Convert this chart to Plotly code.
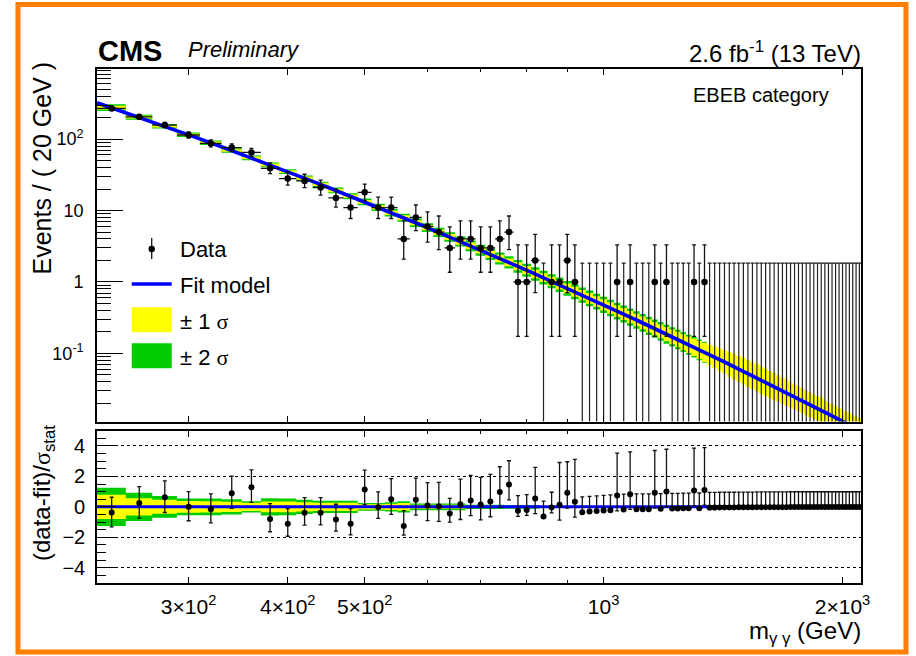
import math
import plotly.graph_objects as go

# ---------------- data ----------------
MASS_EDGES = list(range(230, 2111, 20))            # 95 bin edges, 20 GeV bins
BIN_CENTERS = list(range(240, 2101, 20))           # 94 bins

COUNTS = [269, 205, 157, 114, 87, 76, 65, 39, 28, 26,
          21, 15, 11, 18, 11, 11, 4, 8, 6, 5,
          3, 4, 4, 3, 3, 4, 5, 1, 1, 2,
          0, 1, 1, 2, 1, 0, 0, 0, 0, 0,
          1, 0, 1, 0, 0, 0, 1, 0, 1, 0,
          0, 0, 0, 1, 0, 1] + [0] * 38

# fit model read at the bin edges (events / 20 GeV)
FIT_AT_EDGES = [322.9, 235.2, 174.5, 131.7, 100.8, 78.2, 61.35, 48.66, 38.96, 31.48,
                25.63, 21.03, 17.37, 14.44, 12.08, 10.15, 8.585, 7.290, 6.220, 5.329,
                4.585, 3.959, 3.430, 2.983, 2.603, 2.278, 2.000, 1.760, 1.553, 1.374,
                1.218, 1.083, 0.9652, 0.8619, 0.7710, 0.6913, 0.6209, 0.5589, 0.5037, 0.4549,
                0.4115, 0.3728, 0.3383, 0.3074, 0.2797, 0.2549, 0.2326, 0.2126, 0.1944, 0.1780,
                0.1633, 0.1500, 0.1378, 0.1268, 0.1168, 0.1077, 0.09944, 0.09186, 0.08497, 0.07864,
                0.07287, 0.06757, 0.06271, 0.05827, 0.05416, 0.05041, 0.04692, 0.04371, 0.04076, 0.03805,
                0.03553, 0.03321, 0.03106, 0.02907, 0.02722, 0.02551, 0.02391, 0.02244, 0.02107, 0.01978,
                0.01860, 0.01749, 0.01646, 0.01549, 0.01459, 0.01375, 0.01297, 0.01224, 0.01155, 0.01090,
                0.01030, 0.00974, 0.00921, 0.00871, 0.00824]

# +-1 sigma (yellow) and +-2 sigma (green) band half-widths, in decades, per bin
BAND1_DEX = [0.026, 0.020, 0.018, 0.018, 0.018, 0.018, 0.018, 0.020, 0.020, 0.022,
             0.022, 0.024, 0.026, 0.028, 0.030, 0.032, 0.034, 0.036, 0.038, 0.040,
             0.042, 0.044, 0.046, 0.048, 0.050, 0.052, 0.054, 0.056, 0.058, 0.060,
             0.062, 0.064, 0.066, 0.068, 0.070, 0.072, 0.074, 0.076, 0.078, 0.080,
             0.082, 0.084, 0.086, 0.088, 0.090, 0.092, 0.094, 0.097, 0.100, 0.104,
             0.108, 0.112, 0.117, 0.122, 0.128, 0.135, 0.142, 0.150, 0.158, 0.165,
             0.172, 0.178, 0.183, 0.186, 0.190, 0.190, 0.190, 0.190, 0.190, 0.190,
             0.190, 0.188, 0.186, 0.184, 0.182, 0.180, 0.178, 0.176, 0.174, 0.172,
             0.170, 0.168, 0.166, 0.165, 0.165, 0.165, 0.165, 0.165, 0.165, 0.165,
             0.165, 0.165, 0.165, 0.165]
BAND2_DEX = [0.047, 0.035, 0.032, 0.032, 0.032, 0.032, 0.032, 0.034, 0.034, 0.037,
             0.038, 0.040, 0.043, 0.046, 0.050, 0.053, 0.056, 0.059, 0.062, 0.065,
             0.068, 0.071, 0.074, 0.077, 0.080, 0.083, 0.086, 0.089, 0.092, 0.094,
             0.097, 0.099, 0.101, 0.103, 0.105, 0.107, 0.109, 0.111, 0.113, 0.115,
             0.117, 0.119, 0.121, 0.123, 0.125, 0.127, 0.129, 0.131, 0.133, 0.135,
             0.137, 0.139, 0.141, 0.143, 0.145, 0.147]

# residuals (data-fit)/sigma_stat per bin
RESIDUALS = [-0.37, 0.26, 0.63, 0.00, -0.15, 0.90, 1.29, -0.79, -1.11, -0.39,
             -0.39, -0.83, -1.11, 1.14, -0.02, 0.50, -1.25, 0.46, 0.09, 0.04,
             -0.44, 0.17, 0.42, 0.15, 0.35, 0.98, 1.46, -0.26, -0.20, 0.55,
             -0.63, -0.04, 0.13, 0.92, 0.33, -0.35, -0.31, -0.28, -0.24, -0.22,
             0.74, -0.17, 0.83, -0.15, -0.15, -0.15, 0.92, -0.13, 1.00, -0.11,
             -0.11, -0.10, -0.10, 1.07, -0.09, 1.11,
             -0.05, -0.05, -0.04, -0.04, -0.04, -0.04, -0.03, -0.03, -0.03, -0.03,
             -0.02, -0.02, -0.02, -0.02, -0.02, -0.02, -0.02, -0.02, -0.01, -0.01,
             -0.01, -0.01, -0.01, -0.01, -0.01, -0.01, -0.01, -0.01, -0.01, -0.01,
             -0.01, -0.01, -0.01, -0.01, -0.01, -0.01, -0.01, -0.01]

# residual-panel band half-widths (units of sigma_stat) per bin
RES_BAND1 = [0.80, 0.57, 0.46, 0.38, 0.37, 0.33, 0.27, 0.35, 0.35, 0.30,
             0.27, 0.27, 0.27, 0.17, 0.17, 0.20, 0.25, 0.13, 0.13, 0.13,
             0.13, 0.13, 0.08, 0.08, 0.08, 0.08, 0.06, 0.06, 0.06, 0.06] + [0.03] * 26
RES_BAND2 = [1.25, 0.93, 0.71, 0.55, 0.55, 0.50, 0.37, 0.57, 0.55, 0.47,
             0.40, 0.40, 0.40, 0.25, 0.25, 0.30, 0.37, 0.22, 0.22, 0.22,
             0.22, 0.22, 0.14, 0.14, 0.14, 0.14, 0.12, 0.12, 0.12, 0.12] + [0.06] * 26

# 68% Poisson intervals (down, up) for the observed counts
POISSON_ERR = {0: (0.0, 1.841), 1: (0.827, 2.300), 2: (1.292, 2.638), 3: (1.633, 2.918),
               4: (1.914, 3.162), 5: (2.159, 3.382), 6: (2.379, 3.583), 8: (2.768, 3.945),
               11: (3.265, 4.434), 15: (3.832, 4.976), 18: (4.209, 5.348), 21: (4.550, 5.689),
               26: (5.067, 6.211), 28: (5.259, 6.406), 39: (6.218, 7.362), 65: (8.040, 9.112),
               76: (8.703, 9.762), 87: (9.312, 10.364), 114: (10.662, 11.701),
               157: (12.530, 13.551), 205: (14.320, 15.342), 269: (16.403, 17.420)}

X_TICKS = [300, 400, 500, 1000, 2000]
X_TICKTEXT = ["3×10<sup>2</sup>", "4×10<sup>2</sup>", "5×10<sup>2</sup>", "10<sup>3</sup>", "2×10<sup>3</sup>"]
X_MINOR = [600, 700, 800, 900]
Y_TICKS = [0.1, 1, 10, 100]
Y_TICKTEXT = ["10<sup>-1</sup>", "1", "10", "10<sup>2</sup>"]
Y_MINOR = [k * 10 ** d for d in (-2, -1, 0, 1, 2) for k in range(2, 10)]
R_TICKS = [-4, -2, 0, 2, 4]

# ---------------- geometry ----------------
FIG_W, FIG_H = 916, 656
ML, MR, MT, MB = 97, 55, 69, 73
PW, PH = FIG_W - ML - MR, FIG_H - MT - MB


def px(x):
    return (x - ML) / PW


def py(y):
    return (FIG_H - MB - y) / PH


X_RANGE = [math.log10(MASS_EDGES[0]), math.log10(MASS_EDGES[-1])]
Y_LOG_RANGE = [-1.953, 2.981]

FONT = "Liberation Sans, Arial, Helvetica, sans-serif"
BLUE = "#0000ff"
YELLOW = "#ffff00"
GREEN = "#00cc00"

fig = go.Figure()


def step(vals):
    return list(vals) + [vals[-1]]


def band(xaxis, yaxis, edges, lo, hi, color):
    fig.add_trace(go.Scatter(x=edges, y=step(lo), mode="lines", line=dict(width=0, shape="hv"),
                             xaxis=xaxis, yaxis=yaxis, hoverinfo="skip"))
    fig.add_trace(go.Scatter(x=edges, y=step(hi), mode="lines", line=dict(width=0, shape="hv"),
                             fill="tonexty", fillcolor=color, xaxis=xaxis, yaxis=yaxis, hoverinfo="skip"))


# ---- top panel ----
centers_fit = [math.sqrt(FIT_AT_EDGES[i] * FIT_AT_EDGES[i + 1]) for i in range(len(BIN_CENTERS))]
n2 = len(BAND2_DEX)
band("x", "y", MASS_EDGES[:n2 + 1],
     [centers_fit[i] * 10 ** (-BAND2_DEX[i]) for i in range(n2)],
     [centers_fit[i] * 10 ** (BAND2_DEX[i]) for i in range(n2)], GREEN)
band("x", "y", MASS_EDGES,
     [centers_fit[i] * 10 ** (-BAND1_DEX[i]) for i in range(len(BAND1_DEX))],
     [centers_fit[i] * 10 ** (BAND1_DEX[i]) for i in range(len(BAND1_DEX))], YELLOW)

# empty bins: only the upper Poisson error bar is visible
y_floor = 10 ** (Y_LOG_RANGE[0] - 1)
zx = [c for c, n in zip(BIN_CENTERS, COUNTS) if n == 0]
fig.add_trace(go.Scatter(
    x=zx, y=[y_floor] * len(zx), mode="markers", marker=dict(size=1, color="rgba(0,0,0,0)"),
    error_y=dict(type="data", symmetric=False, array=[POISSON_ERR[0][1] - y_floor] * len(zx),
                 arrayminus=[0] * len(zx), color="#222222", thickness=1.2, width=2),
    xaxis="x", yaxis="y", hoverinfo="skip"))

fig.add_trace(go.Scatter(x=MASS_EDGES, y=FIT_AT_EDGES, mode="lines",
                         line=dict(color=BLUE, width=3.6), xaxis="x", yaxis="y"))

dx = [c for c, n in zip(BIN_CENTERS, COUNTS) if n > 0]
dy = [n for n in COUNTS if n > 0]
fig.add_trace(go.Scatter(
    x=dx, y=dy, mode="markers", marker=dict(size=6.5, color="black"),
    error_y=dict(type="data", symmetric=False, array=[POISSON_ERR[n][1] for n in dy],
                 arrayminus=[POISSON_ERR[n][0] for n in dy], color="#111111", thickness=1.3, width=2),
    error_x=dict(type="constant", value=(MASS_EDGES[1] - MASS_EDGES[0]) / 2, color="#111111",
                 thickness=1.3, width=0),
    xaxis="x", yaxis="y"))

# ---- ratio panel ----
nr = len(RES_BAND1)
band("x2", "y2", MASS_EDGES[:nr + 1], [-v for v in RES_BAND2], RES_BAND2, GREEN)
band("x2", "y2", MASS_EDGES[:nr + 1], [-v for v in RES_BAND1], RES_BAND1, YELLOW)
fig.add_trace(go.Scatter(x=[MASS_EDGES[0], MASS_EDGES[-1]], y=[0, 0], mode="lines",
                         line=dict(color=BLUE, width=3), xaxis="x2", yaxis="y2"))

r_up, r_dn = [], []
for n, r in zip(COUNTS, RESIDUALS):
    lo, hi = POISSON_ERR[n]
    sig = lo if r > 0 else hi
    r_up.append(hi / sig)
    r_dn.append(lo / sig)
fig.add_trace(go.Scatter(
    x=BIN_CENTERS, y=RESIDUALS, mode="markers", marker=dict(size=6, color="black"),
    error_y=dict(type="data", symmetric=False, array=r_up, arrayminus=r_dn,
                 color="#111111", thickness=1.3, width=2),
    xaxis="x2", yaxis="y2"))

# ---------------- layout ----------------
top_dom = [py(421.5), 1.0]
bot_dom = [0.0, py(430.7)]

common_x = dict(type="log", range=X_RANGE, showgrid=False, zeroline=False, showline=True,
                linecolor="black", linewidth=1.6, mirror="ticks", ticks="inside", tickcolor="black",
                tickwidth=1, ticklen=6, tickvals=X_TICKS, ticktext=X_TICKTEXT,
                minor=dict(tickvals=X_MINOR, ticks="inside", ticklen=3, tickcolor="black", showgrid=False))

fig.update_layout(
    width=FIG_W, height=FIG_H, margin=dict(l=ML, r=MR, t=MT, b=MB),
    paper_bgcolor="white", plot_bgcolor="white", showlegend=False,
    font=dict(family=FONT, color="black"),
    xaxis=dict(common_x, anchor="y", domain=[0, 1], showticklabels=False, matches="x2"),
    xaxis2=dict(common_x, anchor="y2", domain=[0, 1], showticklabels=True,
                tickfont=dict(size=21), ticklabelstandoff=4),
    yaxis=dict(type="log", range=Y_LOG_RANGE, domain=top_dom, anchor="x", showgrid=False,
               zeroline=False, showline=True, linecolor="black", linewidth=1.6, mirror=True,
               ticks="inside", tickcolor="black", ticklen=26, tickwidth=1,
               tickvals=Y_TICKS, ticktext=Y_TICKTEXT, tickfont=dict(size=18), ticklabelstandoff=8,
               minor=dict(tickvals=Y_MINOR, ticks="inside", ticklen=14, tickcolor="black", showgrid=False)),
    yaxis2=dict(range=[-5, 5], domain=bot_dom, anchor="x2", showgrid=True, gridcolor="black",
                griddash="dot", gridwidth=1, zeroline=False, showline=True, linecolor="black",
                linewidth=1.6, mirror=True, ticks="inside", tickcolor="black", ticklen=18, tickwidth=1,
                tickvals=R_TICKS, tickfont=dict(size=20), ticklabelstandoff=6,
                minor=dict(dtick=0.5, ticks="inside", ticklen=9, tickcolor="black", showgrid=False)),
)

ann = []


def text(x, y, s, size, xanchor="left", yanchor="middle", angle=0):
    ann.append(dict(x=px(x), y=py(y), xref="paper", yref="paper", text=s, showarrow=False,
                    xanchor=xanchor, yanchor=yanchor, textangle=angle,
                    font=dict(size=size, family=FONT, color="black")))


SIG = "<span style='font-family:Liberation Serif, serif'>σ</span>"
text(96, 51, "<b>CMS</b>", 29)
text(186, 50, "<i>Preliminary</i>", 22)
text(863, 52, "2.6 fb<sup>-1</sup> (13 TeV)", 24, xanchor="right")
text(831, 95, "EBEB category", 20, xanchor="right")
text(178, 250, "Data", 22)
text(178, 285, "Fit model", 22)
text(178, 321, "± 1 " + SIG, 22)
text(178, 357, "± 2 " + SIG, 22)
text(41, 60, "Events / ( 20 GeV )", 25, xanchor="center", yanchor="top", angle=-90)
text(43, 493, "(data-fit)/" + SIG + "<sub>stat</sub>", 24, xanchor="center", angle=-90)
text(863, 632, "m<sub>γ γ</sub> (GeV)", 24, xanchor="right")
fig.update_layout(annotations=ann)

shapes = []
# outer orange frame
shapes.append(dict(type="rect", xref="paper", yref="paper", x0=px(18), x1=px(906), y0=py(652), y1=py(4.5),
                   line=dict(color="#ff8000", width=5), layer="above"))
# legend swatches
shapes.append(dict(type="rect", xref="paper", yref="paper", x0=px(131.7), x1=px(171.7), y0=py(332.3),
                   y1=py(307.3), fillcolor=YELLOW, line=dict(width=0)))
shapes.append(dict(type="rect", xref="paper", yref="paper", x0=px(131.7), x1=px(171.7), y0=py(368.3),
                   y1=py(343.3), fillcolor=GREEN, line=dict(width=0)))
shapes.append(dict(type="line", xref="paper", yref="paper", x0=px(131.7), x1=px(171.7), y0=py(284),
                   y1=py(284), line=dict(color=BLUE, width=3.6)))
shapes.append(dict(type="line", xref="paper", yref="paper", x0=px(151.7), x1=px(151.7), y0=py(259),
                   y1=py(238), line=dict(color="#111111", width=1.3)))
shapes.append(dict(type="circle", xref="paper", yref="paper", x0=px(148.5), x1=px(154.9), y0=py(252.2),
                   y1=py(245.8), fillcolor="black", line=dict(width=0)))
fig.update_layout(shapes=shapes)

fig.write_html("out.html")
